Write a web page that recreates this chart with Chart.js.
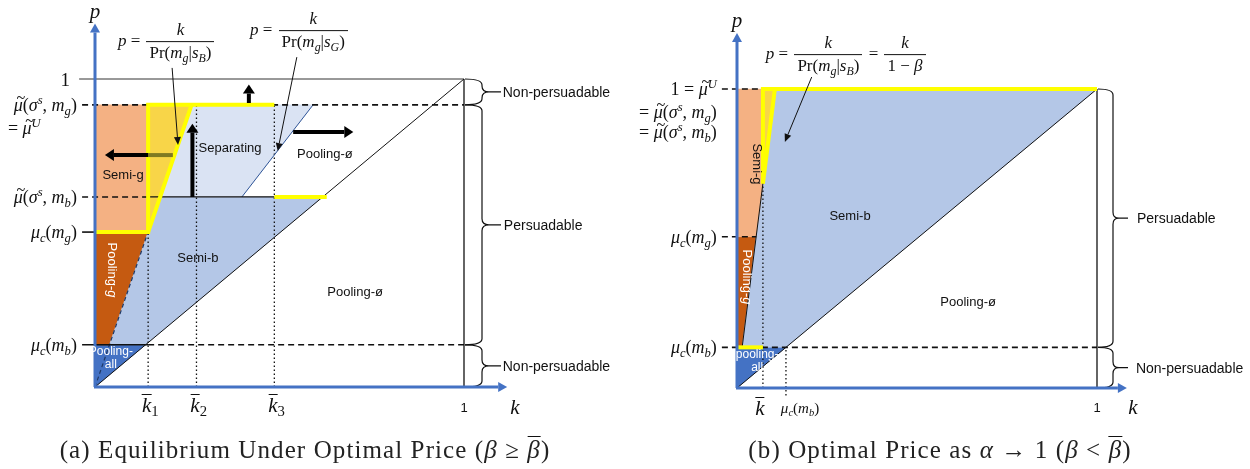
<!DOCTYPE html>
<html>
<head>
<meta charset="utf-8">
<script src="https://cdn.jsdelivr.net/npm/chart.js@4/dist/chart.umd.min.js"></script>
<style>
  body { margin: 0; background: #fff; }
  #wrap { position: relative; width: 1250px; height: 469px; overflow: hidden; }
  canvas { position: absolute; top: 0; }
  .lbl { position: absolute; white-space: nowrap; line-height: 1; color: #111; }
  .m { font-family: 'Liberation Serif', serif; font-size: 18px; }
  .f { font-family: 'Liberation Serif', serif; font-size: 17px; }
  .fs { font-size: 15px; }
  .big { font-size: 21px; }
  .one { font-size: 19px; }
  .s { font-family: 'Liberation Sans', Arial, sans-serif; font-size: 13px; }
  .w { color: #fff; }
  .sm { font-size: 12px; line-height: 13px; text-align: center; }
  .np { font-size: 14px; }
  sub { font-size: 0.7em; vertical-align: -0.3em; line-height: 0; }
  sup { font-size: 0.7em; vertical-align: 0.55em; line-height: 0; }
  .ov { display: inline-block; border-top: 1.6px solid #111; padding-top: 1px; line-height: 0.95; }
  .tl { position: relative; display: inline-block; }
  .tl::before { content: '~'; position: absolute; left: 0.17em; top: -0.38em; font-style: normal; font-size: 0.9em; }
  .frac { display: inline-flex; flex-direction: column; vertical-align: middle; text-align: center; margin: 0 2px; }
  .frac > span { padding: 1px 3px; line-height: 1.2; }
  .frac > span:first-child { border-bottom: 1px solid #111; }
  .cap { position: absolute; top: 450px; transform: translate(-50%, -50%); font-family: 'Liberation Serif', serif;
         font-size: 25px; letter-spacing: 1.1px; white-space: nowrap; color: #222; }
</style>
</head>
<body>
<div id="wrap">
  <canvas id="ca" width="620" height="469" style="left:0"></canvas>
  <canvas id="cb" width="630" height="469" style="left:620px"></canvas>
  <div class="cap" style="left:305px">(a) Equilibrium Under Optimal Price (<i>β</i> ≥ <span class="ov"><i>β</i></span>)</div>
  <div class="cap" style="left:940px">(b) Optimal Price as <i>α</i> → 1 (<i>β</i> &lt; <span class="ov"><i>β</i></span>)</div>
</div>
<script>
// panel (a): price levels  1, mu~U = mu~(s,mg), mu~(s,mb), muc(mg), muc(mb)
const aLevels = [1, 0.916, 0.617, 0.503, 0.137];
// k-bar_1, k-bar_2, k-bar_3
const aKbar = [0.144, 0.275, 0.486];
// slopes of p = k / Pr(mg|sB) and p = k / Pr(mg|sG)
const aSlopes = [3.5, 1.55];

// panel (b): 1 = mu~U, muc(mg), muc(mb)
const bLevels = [1, 0.506, 0.136];
const bKbar = [0.072];
const bSlopes = [9.5];

const LIGHT_ORANGE = '#f4b183', DARK_ORANGE = '#c55a11', GOLD = '#f8d548';
const MID_BLUE = '#b4c7e7', LIGHT_BLUE = '#dae3f3', DARK_BLUE = '#4472c4';
const YELLOW = '#ffff00', AXIS = '#4472c4';
const DASH = [6, 4], DOT = [1.5, 2.5];

const wrap = document.getElementById('wrap');

function pts(list) { return list.map(([x, y]) => ({ x, y })); }
function poly(list, color) {
  return { data: pts([...list, list[0]]), fill: 'shape', backgroundColor: color,
           borderColor: color, borderWidth: 0.5 };
}
function line(list, color, width, dash) {
  return { data: pts(list), fill: false, borderColor: color, borderWidth: width,
           borderDash: dash || [], borderJoinStyle: 'miter' };
}

function arrow(ctx, x0, y0, x1, y1, w, hl, hw, color, head) {
  const a = Math.atan2(y1 - y0, x1 - x0);
  const bx = x1 - Math.cos(a) * hl, by = y1 - Math.sin(a) * hl;
  ctx.save();
  ctx.strokeStyle = color; ctx.fillStyle = color; ctx.lineWidth = w;
  ctx.beginPath(); ctx.moveTo(x0, y0);
  ctx.lineTo(head ? bx : x1, head ? by : y1); ctx.stroke();
  if (head) {
    ctx.beginPath(); ctx.moveTo(x1, y1);
    ctx.lineTo(bx + Math.sin(a) * hw, by - Math.cos(a) * hw);
    ctx.lineTo(bx - Math.sin(a) * hw, by + Math.cos(a) * hw);
    ctx.closePath(); ctx.fill();
  }
  ctx.restore();
}

function brace(ctx, x0, ya, yb, s, t, e) {
  const ym = (ya + yb) / 2, r = Math.min(6, (yb - ya) / 4);
  ctx.save();
  ctx.strokeStyle = '#111'; ctx.lineWidth = 1.2;
  ctx.beginPath();
  ctx.moveTo(x0, ya);
  ctx.quadraticCurveTo(x0 + s, ya, x0 + s, ya + r);
  ctx.lineTo(x0 + s, ym - r);
  ctx.quadraticCurveTo(x0 + s, ym, x0 + t, ym);
  ctx.quadraticCurveTo(x0 + s, ym, x0 + s, ym + r);
  ctx.lineTo(x0 + s, yb - r);
  ctx.quadraticCurveTo(x0 + s, yb, x0, yb);
  ctx.moveTo(x0 + t, ym); ctx.lineTo(x0 + e, ym);
  ctx.stroke();
  ctx.restore();
}

const decor = {
  id: 'decor',
  afterDatasetsDraw(chart, args, o) {
    const { ctx } = chart;
    const X = v => chart.scales.x.getPixelForValue(v);
    const Y = v => chart.scales.y.getPixelForValue(v);
    (o.arrows || []).forEach(a =>
      arrow(ctx, X(a[0]), Y(a[1]), X(a[2]), Y(a[3]), 4, 9, 6, a[4] || '#000', a[5] !== false));
    (o.pointers || []).forEach(a =>
      arrow(ctx, X(a[0]), Y(a[1]), X(a[2]), Y(a[3]), 1, 8, 3.5, '#111', true));
    (o.braces || []).forEach(b => brace(ctx, X(1) + 1, Y(b[0]), Y(b[1]), ...o.braceShape));
    // axes
    arrow(ctx, X(0), Y(0), X(0), Y(o.tip[1]), 3, 9, 5, AXIS, true);
    arrow(ctx, X(0) - 1, Y(0), X(o.tip[0]), Y(0), 3, 9, 5, AXIS, true);
  }
};

function range(px0, px1, size, flip) {
  if (flip) { const per = px0 - px1; return { min: -(size - px0) / per, max: px0 / per }; }
  const per = px1 - px0; return { min: -px0 / per, max: (size - px0) / per };
}

function makeChart(id, datasets, xr, yr, decorOpts) {
  datasets.forEach((d, i) => { d.order = datasets.length - i; });
  return new Chart(document.getElementById(id), {
    type: 'line',
    data: { datasets },
    options: {
      responsive: false, animation: false, devicePixelRatio: 1, events: [],
      layout: { padding: 0 },
      elements: { point: { radius: 0 }, line: { tension: 0 } },
      scales: {
        x: { type: 'linear', display: false, bounds: 'data', min: xr.min, max: xr.max },
        y: { type: 'linear', display: false, bounds: 'data', min: yr.min, max: yr.max }
      },
      plugins: { legend: { display: false }, tooltip: { enabled: false }, decor: decorOpts }
    },
    plugins: [decor]
  });
}

function place(chart, left, items) {
  const sx = chart.scales.x, sy = chart.scales.y;
  items.forEach(([k, p, html, cls, anchor]) => {
    const el = document.createElement('div');
    el.className = 'lbl ' + cls;
    el.innerHTML = html;
    el.style.left = (left + sx.getPixelForValue(k)) + 'px';
    el.style.top = sy.getPixelForValue(p) + 'px';
    const tx = anchor === 'r' ? '-100%' : anchor === 'l' ? '0' : '-50%';
    el.style.transform = `translate(${tx}, -50%)` + (anchor === 'rot' ? ' rotate(90deg)' : '');
    wrap.appendChild(el);
  });
}

// math snippets
const MUT = '<span class="tl"><i>μ</i></span>';
const muTil = m => `${MUT}(<i>σ</i><sup><i>s</i></sup>, <i>m</i><sub><i>${m}</i></sub>)`;
const muC = m => `<i>μ</i><sub><i>c</i></sub>(<i>m</i><sub><i>${m}</i></sub>)`;
const kbar = n => `<span class="ov"><i>k</i></span>${n ? '<sub>' + n + '</sub>' : ''}`;
const frac = (a, b) => `<span class="frac"><span>${a}</span><span>${b}</span></span>`;
const prG = s => `Pr(<i>m</i><sub><i>g</i></sub>|<i>s</i><sub><i>${s}</i></sub>)`;

// ---------------- panel (a) ----------------
{
  const [ONE, MU_U, MU_SB, MUC_G, MUC_B] = aLevels;
  const [K1, K2, K3] = aKbar;
  const kB = p => p / aSlopes[0], kG = p => p / aSlopes[1];
  const L = -0.035;

  const ds = [
    poly([[0, 0], [MUC_B, MUC_B], [0, MUC_B]], DARK_BLUE),
    poly([[0, MUC_B], [kB(MUC_B), MUC_B], [kB(MUC_G), MUC_G], [0, MUC_G]], DARK_ORANGE),
    poly([[kB(MUC_B), MUC_B], [MUC_B, MUC_B], [MU_SB, MU_SB], [kB(MU_SB), MU_SB]], MID_BLUE),
    poly([[kB(MU_SB), MU_SB], [kG(MU_SB), MU_SB], [kG(MU_U), MU_U], [kB(MU_U), MU_U]], LIGHT_BLUE),
    poly([[0, MUC_G], [K1, MUC_G], [K1, MU_U], [0, MU_U]], LIGHT_ORANGE),
    poly([[K1, MUC_G], [kB(MU_U), MU_U], [K1, MU_U]], GOLD),
    line([[K1, 0], [K1, MUC_G]], '#111', 1.3, DOT),
    line([[K2, 0], [K2, MU_U]], '#111', 1.3, DOT),
    line([[K3, 0], [K3, MU_U]], '#111', 1.3, DOT),
    line([[-0.043, ONE], [1, ONE]], '#333', 1),
    line([[0, 0], [1, 1]], '#111', 1),
    line([[1, 0], [1, ONE]], '#111', 1.3),
    line([[0, 0], [kB(MUC_G), MUC_G]], '#1f3864', 1.2, [4, 3]),
    line([[kG(MU_SB), MU_SB], [kG(MU_U), MU_U]], '#2f5597', 1),
    line([[L, MU_U], [1, MU_U]], '#111', 1.6, DASH),
    line([[L, MU_SB], [K1, MU_SB]], '#111', 1.6, DASH),
    line([[K1, MU_SB], [K3, MU_SB]], '#111', 1.2),
    line([[L, MUC_G], [0, MUC_G]], '#111', 1.6),
    line([[L, MUC_B], [K1, MUC_B]], '#111', 1.6),
    line([[K1, MUC_B], [1, MUC_B]], '#111', 1.6, DASH),
    line([[0, MUC_G], [K1, MUC_G], [K1, MU_U], [K3, MU_U]], YELLOW, 4),
    line([[K1, MUC_G], [kB(MU_U), MU_U]], YELLOW, 4),
    line([[K3, MU_SB], [MU_SB + 0.011, MU_SB]], YELLOW, 4)
  ];

  const chart = makeChart('ca', ds, range(95, 464, 620), range(387, 79, 469, true), {
    arrows: [
      [0.417, 0.922, 0.417, 0.982],
      [0.264, MU_SB, 0.264, 0.855],
      [0.211, 0.753, K1, 0.753, '#7f7a22', false],
      [K1, 0.753, 0.027, 0.753],
      [0.537, 0.828, 0.70, 0.828]
    ],
    pointers: [[0.209, 1.036, 0.225, 0.786], [0.547, 1.071, 0.495, 0.766]],
    braces: [[ONE, MU_U], [MU_U, MUC_B], [MUC_B, 0]],
    braceShape: [17, 24, 36],
    tip: [1.117, 1.18]
  });

  place(chart, 0, [
    [-0.068, ONE, '1', 'm one', 'r'],
    [-0.049, MU_U, muTil('g'), 'm', 'r'],
    [-0.236, 0.841, '= ' + MUT + '<sup><i>U</i></sup>', 'm', 'l'],
    [-0.049, MU_SB, muTil('b'), 'm', 'r'],
    [-0.049, MUC_G, muC('g'), 'm', 'r'],
    [-0.049, MUC_B, muC('b'), 'm', 'r'],
    [K1 + 0.006, -0.057, kbar(1), 'm big', 'c'],
    [K2 + 0.006, -0.057, kbar(2), 'm big', 'c'],
    [K3 + 0.006, -0.057, kbar(3), 'm big', 'c'],
    [1, -0.065, '1', 's', 'c'],
    [0, 1.222, '<i>p</i>', 'm big', 'c'],
    [1.138, -0.065, '<i>k</i>', 'm big', 'c'],
    [0.062, 1.12, '<i>p</i> = ' + frac('<i>k</i>', prG('B')), 'f', 'l'],
    [0.42, 1.156, '<i>p</i> = ' + frac('<i>k</i>', prG('G')), 'f', 'l'],
    [0.076, 0.692, 'Semi-g', 's', 'c'],
    [0.366, 0.779, 'Separating', 's', 'c'],
    [0.623, 0.760, 'Pooling-ø', 's', 'c'],
    [0.279, 0.422, 'Semi-b', 's', 'c'],
    [0.705, 0.312, 'Pooling-ø', 's', 'c'],
    [0.046, 0.380, 'Pooling-<i>g</i>', 's w', 'rot'],
    [0.043, 0.094, 'Pooling-<br>all', 's w sm', 'c'],
    [1.105, (ONE + MU_U) / 2, 'Non-persuadable', 's np', 'l'],
    [1.108, (MU_U + MUC_B) / 2, 'Persuadable', 's np', 'l'],
    [1.105, MUC_B / 2, 'Non-persuadable', 's np', 'l']
  ]);
}

// ---------------- panel (b) ----------------
{
  const [ONE, MUC_G, MUC_B] = bLevels;
  const [KB] = bKbar;
  const kB = p => p / bSlopes[0];
  const KINK = KB * bSlopes[0];
  const L = -0.042;

  const ds = [
    poly([[0, 0], [MUC_B, MUC_B], [0, MUC_B]], DARK_BLUE),
    poly([[0, MUC_B], [kB(MUC_B), MUC_B], [kB(MUC_G), MUC_G], [0, MUC_G]], DARK_ORANGE),
    poly([[kB(MUC_B), MUC_B], [MUC_B, MUC_B], [1, ONE], [kB(ONE), ONE]], MID_BLUE),
    poly([[0, MUC_G], [kB(MUC_G), MUC_G], [KB, KINK], [KB, ONE], [0, ONE]], LIGHT_ORANGE),
    poly([[KB, KINK], [kB(ONE), ONE], [KB, ONE]], GOLD),
    line([[KB, 0], [KB, KINK]], '#111', 1.3, DOT),
    line([[MUC_B, -0.025], [MUC_B, MUC_B]], '#111', 1.3, DOT),
    line([[0, 0], [1, 1]], '#111', 1),
    line([[1, 0], [1, ONE]], '#111', 1.3),
    line([[kB(MUC_B), MUC_B], [KB, KINK]], '#111', 1),
    line([[L, ONE], [KB, ONE]], '#111', 1.6, DASH),
    line([[L, MUC_G], [kB(MUC_G), MUC_G]], '#111', 1.6, DASH),
    line([[L, MUC_B], [1, MUC_B]], '#111', 1.6, DASH),
    line([[KB, KINK], [KB, ONE], [1, ONE]], YELLOW, 4),
    line([[KB, KINK], [kB(ONE), ONE]], YELLOW, 4),
    line([[0, MUC_B], [KB, MUC_B]], YELLOW, 4)
  ];

  const chart = makeChart('cb', ds, range(117, 477, 630), range(388, 89, 469, true), {
    arrows: [],
    pointers: [[0.2075, 1.04, 0.133, 0.823]],
    braces: [[ONE, MUC_B], [MUC_B, 0]],
    braceShape: [15, 21, 30],
    tip: [1.083, 1.187]
  });

  place(chart, 620, [
    [-0.056, ONE, '1 = ' + MUT + '<sup><i>U</i></sup>', 'm', 'r'],
    [-0.056, 0.923, '= ' + muTil('g'), 'm', 'r'],
    [-0.056, 0.856, '= ' + muTil('b'), 'm', 'r'],
    [-0.056, MUC_G, muC('g'), 'm', 'r'],
    [-0.056, MUC_B, muC('b'), 'm', 'r'],
    [KB - 0.008, -0.067, kbar(0), 'm big', 'c'],
    [0.175, -0.067, muC('b'), 'f fs', 'c'],
    [1, -0.064, '1', 's', 'c'],
    [0, 1.23, '<i>p</i>', 'm big', 'c'],
    [1.1, -0.064, '<i>k</i>', 'm big', 'c'],
    [0.08, 1.114, '<i>p</i> = ' + frac('<i>k</i>', prG('B')) + ' = ' + frac('<i>k</i>', '1 − <i>β</i>'), 'f', 'l'],
    [0.056, 0.749, 'Semi-g', 's', 'rot'],
    [0.314, 0.579, 'Semi-b', 's', 'c'],
    [0.642, 0.291, 'Pooling-ø', 's', 'c'],
    [0.028, 0.371, 'Pooling-<i>g</i>', 's w', 'rot'],
    [0.056, 0.09, 'pooling-<br>all', 's w sm', 'c'],
    [1.111, (ONE + MUC_B) / 2, 'Persuadable', 's np', 'l'],
    [1.108, MUC_B / 2, 'Non-persuadable', 's np', 'l']
  ]);
}
</script>
</body>
</html>
